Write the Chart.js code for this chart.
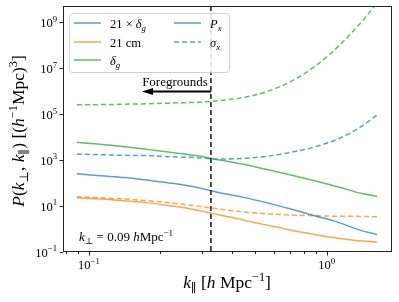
<!DOCTYPE html>
<html>
<head>
<meta charset="utf-8">
<script src="https://cdn.jsdelivr.net/npm/chart.js@4"></script>
<style>
  body { margin: 0; background: #fff; }
  #wrap { width: 399px; height: 302px; }
</style>
</head>
<body>
<div id="wrap"><canvas id="c" width="399" height="302"></canvas></div>
<script>
// k_parallel sample points [h/Mpc]
const kPar = [0.089, 0.112, 0.141, 0.178, 0.224, 0.282, 0.355, 0.447, 0.562, 0.708, 0.891, 1.12, 1.41, 1.63];

// power spectra (solid)
const cross21g = [257, 209, 174, 132, 98, 66, 38, 24, 13.8, 7.4, 3.8, 1.95, 0.83, 0.58];
const auto21   = [22.9, 20.4, 17.0, 13.8, 10.0, 6.8, 4.1, 2.45, 1.48, 0.89, 0.58, 0.40, 0.30, 0.275];
const deltaG   = [6030, 4900, 3890, 2880, 2140, 1580, 1020, 660, 389, 224, 126, 68, 35, 26.3];
// errors (dashed)
const sigCross = [1820, 1740, 1620, 1580, 1410, 1290, 1120, 1200, 1480, 2190, 3800, 8500, 30900, 93000];
const sig21    = [25.7, 22.9, 20.4, 17.0, 13.5, 10.2, 7.4, 5.6, 4.6, 4.1, 3.8, 3.6, 3.55, 3.4];
const sigG     = [2.57e5, 2.63e5, 2.75e5, 2.88e5, 3.09e5, 3.31e5, 3.98e5, 5.37e5, 9.8e5, 2.7e6, 1.2e7, 9.1e7, 1.12e9, 7.1e9];

const kForeground = 0.326;
const xMajor = [0.1, 1];
const xMajorLabels = [['10', '−1'], ['10', '0']];
const xMinor = [0.08, 0.09, 0.2, 0.3, 0.4, 0.5, 0.6, 0.7, 0.8, 0.9];
const yMajor = [0.1, 10, 1e3, 1e5, 1e7, 1e9];
const yMajorLabels = [['10', '−1'], ['10', '1'], ['10', '3'], ['10', '5'], ['10', '7'], ['10', '9']];

const BLUE = 'rgba(31,119,180,0.72)';
const ORANGE = 'rgba(255,127,14,0.72)';
const GREEN = 'rgba(44,160,44,0.72)';
const SERIF = '"Liberation Serif", "DejaVu Serif", serif';

function pts(vals) {
  return kPar.map((k, i) => ({ x: k, y: vals[i] }));
}

function ds(vals, color, dashed) {
  return {
    data: pts(vals),
    borderColor: color,
    borderWidth: 1.5,
    borderDash: dashed ? [5, 3] : [],
    pointRadius: 0,
    fill: false,
    cubicInterpolationMode: 'monotone'
  };
}

// text built from plain / italic / sub / sup pieces
function richWidth(ctx, segs, size) {
  let w = 0;
  segs.forEach(s => {
    const fs = (s.sub || s.sup) ? size * 0.7 : size;
    ctx.font = (s.it ? 'italic ' : '') + fs + 'px ' + SERIF;
    w += ctx.measureText(s.t).width;
  });
  return w;
}
function drawRich(ctx, segs, x, y, size, align) {
  let cx = x;
  const w = richWidth(ctx, segs, size);
  if (align === 'center') cx = x - w / 2;
  if (align === 'right') cx = x - w;
  ctx.textAlign = 'left';
  ctx.textBaseline = 'alphabetic';
  ctx.fillStyle = '#000';
  segs.forEach(s => {
    const fs = (s.sub || s.sup) ? size * 0.7 : size;
    ctx.font = (s.it ? 'italic ' : '') + fs + 'px ' + SERIF;
    let dy = 0;
    if (s.sub) dy = size * 0.25;
    if (s.sup) dy = -size * 0.42;
    ctx.fillText(s.t, cx, y + dy);
    cx += ctx.measureText(s.t).width;
  });
}
function pow10(lbl) {
  return [{ t: lbl[0] }, { t: lbl[1], sup: true }];
}

const extras = {
  id: 'extras',
  afterDatasetsDraw(chart) {
    const ctx = chart.ctx;
    const a = chart.chartArea;
    const xs = chart.scales.x;
    const ys = chart.scales.y;
    ctx.save();
    // foreground boundary
    const fx = xs.getPixelForValue(kForeground);
    ctx.strokeStyle = '#222';
    ctx.lineWidth = 1.6;
    ctx.setLineDash([5, 3]);
    ctx.beginPath();
    ctx.moveTo(fx, a.top);
    ctx.lineTo(fx, a.bottom);
    ctx.stroke();
    ctx.setLineDash([]);
    // arrow
    ctx.strokeStyle = '#000';
    ctx.fillStyle = '#000';
    ctx.lineWidth = 2;
    ctx.beginPath();
    ctx.moveTo(fx, 91.5);
    ctx.lineTo(150, 91.5);
    ctx.stroke();
    ctx.beginPath();
    ctx.moveTo(142, 91.5);
    ctx.lineTo(153, 88);
    ctx.lineTo(153, 95);
    ctx.closePath();
    ctx.fill();
    drawRich(ctx, [{ t: 'Foregrounds' }], 175, 86, 13, 'center');
    // k_perp note
    drawRich(ctx, [{ t: 'k', it: true }, { t: '⊥', sub: true }, { t: ' = 0.09 ' }, { t: 'h', it: true },
      { t: 'Mpc' }, { t: '−1', sup: true }], 79, 241, 13, 'left');

    // legend
    ctx.fillStyle = 'rgba(255,255,255,0.85)';
    ctx.strokeStyle = '#d0d0d0';
    ctx.lineWidth = 1;
    ctx.beginPath();
    ctx.roundRect(69.5, 13.5, 160, 59, 3);
    ctx.fill();
    ctx.stroke();
    const rows = [
      { x: 74, y: 23, c: BLUE, d: false, s: [{ t: '21 × ' }, { t: 'δ', it: true }, { t: 'g', it: true, sub: true }] },
      { x: 74, y: 42, c: ORANGE, d: false, s: [{ t: '21' }, { t: ' cm' }] },
      { x: 74, y: 60, c: GREEN, d: false, s: [{ t: 'δ', it: true }, { t: 'g', it: true, sub: true }] },
      { x: 174, y: 23, c: BLUE, d: false, s: [{ t: 'P', it: true }, { t: 'x', it: true, sub: true }] },
      { x: 174, y: 42, c: BLUE, d: true, s: [{ t: 'σ', it: true }, { t: 'x', it: true, sub: true }] }
    ];
    rows.forEach(r => {
      ctx.strokeStyle = r.c;
      ctx.lineWidth = 1.5;
      ctx.setLineDash(r.d ? [5, 3] : []);
      ctx.beginPath();
      ctx.moveTo(r.x, r.y);
      ctx.lineTo(r.x + 27, r.y);
      ctx.stroke();
      ctx.setLineDash([]);
      drawRich(ctx, r.s, r.x + 36, r.y + 4.5, 12.5, 'left');
    });

    // frame
    ctx.strokeStyle = '#222';
    ctx.lineWidth = 1;
    ctx.strokeRect(a.left + 0.5, a.top + 0.5, a.right - a.left - 1, a.bottom - a.top - 1);

    // ticks and tick labels
    ctx.beginPath();
    xMinor.forEach(v => {
      const px = Math.round(xs.getPixelForValue(v)) + 0.5;
      ctx.moveTo(px, a.bottom); ctx.lineTo(px, a.bottom + 2);
    });
    xMajor.forEach(v => {
      const px = Math.round(xs.getPixelForValue(v)) + 0.5;
      ctx.moveTo(px, a.bottom); ctx.lineTo(px, a.bottom + 3.5);
    });
    yMajor.forEach(v => {
      const py = Math.round(ys.getPixelForValue(v)) + 0.5;
      ctx.moveTo(a.left, py); ctx.lineTo(a.left - 3.5, py);
    });
    ctx.stroke();
    xMajor.forEach((v, i) => {
      drawRich(ctx, pow10(xMajorLabels[i]), xs.getPixelForValue(v), a.bottom + 17, 12.5, 'center');
    });
    yMajor.forEach((v, i) => {
      drawRich(ctx, pow10(yMajorLabels[i]), a.left - 6, ys.getPixelForValue(v) + 4.5, 12.5, 'right');
    });

    // axis titles
    drawRich(ctx, [{ t: 'k', it: true }, { t: '∥', sub: true }, { t: ' [' }, { t: 'h', it: true },
      { t: ' Mpc' }, { t: '−1', sup: true }, { t: ']' }], 227, 288, 17.5, 'center');
    ctx.translate(24, 131);
    ctx.rotate(-Math.PI / 2);
    drawRich(ctx, [{ t: 'P', it: true }, { t: '(' }, { t: 'k', it: true }, { t: '⊥', sub: true }, { t: ', ' },
      { t: 'k', it: true }, { t: '∥', sub: true }, { t: ') [(' }, { t: 'h', it: true }, { t: '−1', sup: true },
      { t: 'Mpc)' }, { t: '3', sup: true }, { t: ']' }], 0, 0, 17.5, 'center');
    ctx.restore();
  }
};

new Chart(document.getElementById('c'), {
  type: 'line',
  data: {
    datasets: [
      ds(cross21g, BLUE, false),
      ds(auto21, ORANGE, false),
      ds(deltaG, GREEN, false),
      ds(sigCross, BLUE, true),
      ds(sig21, ORANGE, true),
      ds(sigG, GREEN, true)
    ]
  },
  options: {
    responsive: false,
    animation: false,
    devicePixelRatio: 1,
    layout: { padding: { top: 6, right: 7, left: 0, bottom: 0 } },
    plugins: { legend: { display: false }, tooltip: { enabled: false } },
    scales: {
      x: {
        type: 'logarithmic',
        min: 0.0778,
        max: 1.884,
        afterFit: s => { s.height = 50; },
        border: { display: false },
        grid: { display: false },
        ticks: { display: false }
      },
      y: {
        type: 'logarithmic',
        min: 0.1,
        max: 5.2e9,
        afterFit: s => { s.width = 63; },
        border: { display: false },
        grid: { display: false },
        ticks: { display: false }
      }
    }
  },
  plugins: [extras]
});
</script>
</body>
</html>
